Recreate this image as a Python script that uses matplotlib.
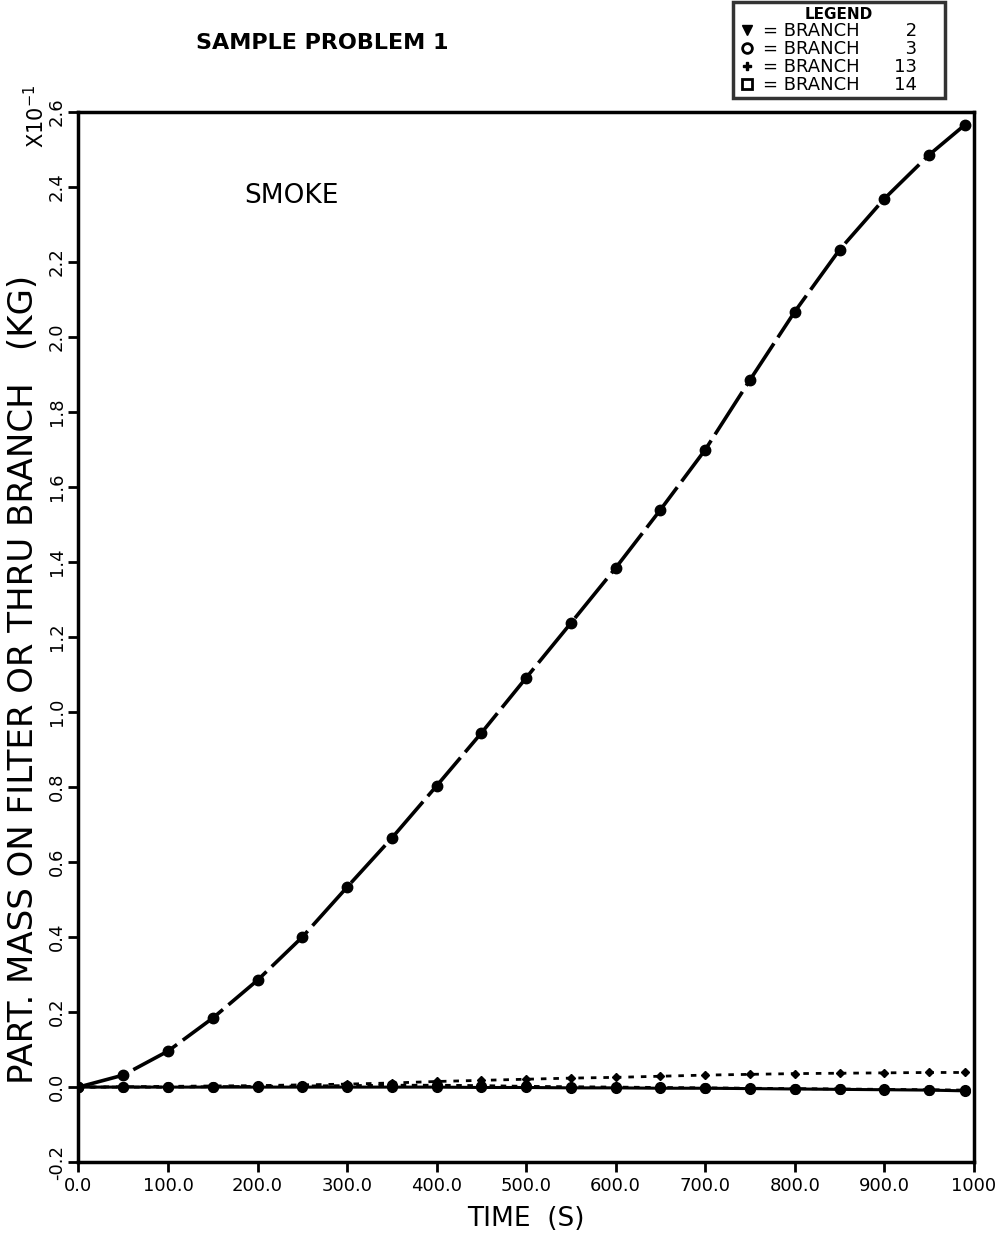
import numpy as np
import matplotlib.pyplot as plt
from matplotlib.lines import Line2D

# time (s) and particulate mass (x10^-1 kg)
time = [0, 50, 100, 150, 200, 250, 300, 350, 400, 450, 500, 550, 600, 650,
        700, 750, 800, 850, 900, 950, 990]
branch3 = [0.0, 0.032, 0.096, 0.184, 0.285, 0.40, 0.533, 0.664, 0.803, 0.944,
           1.091, 1.237, 1.384, 1.539, 1.699, 1.885, 2.067, 2.232, 2.368,
           2.485, 2.565]
branch13 = [0.0, 0.001, 0.002, 0.003, 0.004, 0.006, 0.008, 0.011, 0.015, 0.018,
            0.021, 0.024, 0.026, 0.029, 0.032, 0.034, 0.036, 0.037, 0.038,
            0.039, 0.039]
branch2 = [0.0, 0.0, 0.0, 0.0, 0.0, 0.0, 0.0, 0.0, 0.0, -0.001, -0.001,
           -0.002, -0.002, -0.003, -0.003, -0.004, -0.005, -0.006, -0.007,
           -0.008, -0.010]
branch14 = [0.0, 0.0, 0.0, 0.001, 0.002, 0.003, 0.004, 0.005, 0.005, 0.004,
            0.002, 0.001, 0.0, -0.001, -0.002, -0.003, -0.004, -0.005, -0.006,
            -0.007, -0.008]

xticks = [0, 100, 200, 300, 400, 500, 600, 700, 800, 900, 1000]
xlabels = ['0.0', '100.0', '200.0', '300.0', '400.0', '500.0', '600.0',
           '700.0', '800.0', '900.0', '1000']
yticks = np.round(np.arange(-0.2, 2.61, 0.2), 1)

fig = plt.figure(figsize=(10.06, 12.35), dpi=100)
ax = fig.add_axes([0.078, 0.059, 0.89, 0.8505])

ax.plot(time, branch2, color='black', lw=2.2, marker='o', ms=7)
ax.plot(time, branch14, color='black', lw=2, ls=(0, (2, 2)), marker='o', ms=7)
ax.plot(time, branch13, color='black', lw=2, ls=(0, (2, 2.5)), marker='D', ms=4)
ax.plot(time, branch3, color='black', lw=2.6, ls=(0, (14, 2)), marker='o', ms=7.5)

ax.set_xlim(0, 1000)
ax.set_ylim(-0.2, 2.6)
ax.set_xticks(xticks)
ax.set_xticklabels(xlabels, fontsize=13)
ax.set_yticks(yticks)
ax.set_yticklabels(['%.1f' % v for v in yticks], fontsize=13, rotation=90,
                   va='center')
ax.tick_params(direction='out', length=7, width=2)
ax.tick_params(axis='y', pad=2)
for s in ax.spines.values():
    s.set_linewidth(2.5)

ax.set_xlabel('TIME  (S)', fontsize=19, labelpad=8)
fig.text(0.023, 0.45, 'PART. MASS ON FILTER OR THRU BRANCH   (KG)',
         fontsize=24.5, rotation=90, ha='center', va='center')

fig.text(0.035, 0.880, r'X10$^{-1}$', rotation=90, fontsize=15, ha='center',
         va='bottom')
fig.text(0.195, 0.965, 'SAMPLE PROBLEM 1', fontsize=16, fontweight='bold',
         va='center')
ax.text(0.185, 0.92, 'SMOKE', transform=ax.transAxes, fontsize=19,
        va='center')

handles = [Line2D([], [], ls='', marker='v', color='black', ms=7),
           Line2D([], [], ls='', marker='o', mfc='white', mec='black', mew=2, ms=7),
           Line2D([], [], ls='', marker='P', color='black', ms=6),
           Line2D([], [], ls='', marker='s', mfc='white', mec='black', mew=2, ms=7)]
labels = ['= BRANCH        2    ', '= BRANCH        3    ',
          '= BRANCH      13    ', '= BRANCH      14    ']
leg = fig.legend(handles, labels, title='LEGEND', loc='upper left',
                 bbox_to_anchor=(0.729, 0.998), fontsize=13, title_fontsize=11,
                 frameon=True, fancybox=False, edgecolor='black',
                 handlelength=1, handletextpad=0.4, labelspacing=0.0,
                 borderpad=0.25, borderaxespad=0)
leg.get_frame().set_linewidth(2.5)
leg.get_title().set_fontweight('bold')

fig.savefig('out.png', dpi=100)
